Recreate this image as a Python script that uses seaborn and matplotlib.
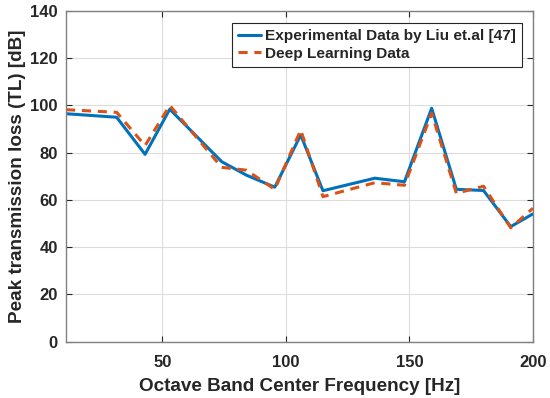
import pandas as pd
import matplotlib
matplotlib.use("Agg")
import matplotlib.pyplot as plt
import seaborn as sns

# values
freq = [11, 31.5, 43, 53, 74, 84, 95.5, 106, 115, 136, 148, 159, 169, 180, 191, 200]
experimental = [96.5, 95.0, 79.3, 98.4, 76.2, 70.5, 65.4, 87.5, 63.9, 69.2, 67.7, 98.8, 64.5, 64.0, 48.7, 54.1]
deep_learning = [98.2, 97.1, 83.0, 100.0, 73.8, 72.6, 64.5, 89.6, 61.4, 67.3, 66.2, 96.7, 62.8, 65.8, 48.2, 56.5]

label_exp = "Experimental Data by Liu et.al [47]"
label_dl = "Deep Learning Data"

data = pd.DataFrame({"freq": freq, "exp": experimental, "dl": deep_learning})

sns.set_theme(style="ticks")
plt.rcParams['font.family'] = ['Liberation Sans', 'DejaVu Sans']
plt.rcParams['font.weight'] = 'bold'

fig = plt.figure(figsize=(5.5, 3.98), dpi=100)
ax = fig.add_axes([0.12, 0.1415, 0.849, 0.831])

sns.lineplot(data=data, x="freq", y="exp", ax=ax, color="#0072BD", linewidth=2.2, label=label_exp)
sns.lineplot(data=data, x="freq", y="dl", ax=ax, color="#D95319", linewidth=2.2,
             linestyle=(0, (3, 2.2)), label=label_dl)

ax.set_xlim(11, 200)
ax.set_ylim(0, 140)
ax.set_xticks([50, 100, 150, 200])
ax.set_yticks(range(0, 141, 20))
ax.grid(True, color="#dcdcdc", linewidth=0.8)
ax.tick_params(direction="in", top=True, right=True, length=4, width=0.8,
               color="#262626", labelsize=12)
ax.tick_params(axis="x", pad=9.5)
ax.tick_params(axis="y", pad=6)
for lbl in ax.get_xticklabels() + ax.get_yticklabels():
    lbl.set_fontweight("bold")
    lbl.set_color("#262626")
for s in ax.spines.values():
    s.set_color("#808080")
    s.set_linewidth(1.0)

ax.set_xlabel("Octave Band Center Frequency [Hz]", fontsize=13.6, fontweight="bold", color="#262626", labelpad=5.5)
ax.set_ylabel("Peak transmission loss (TL) [dB]", fontsize=13.6, fontweight="bold", color="#262626", labelpad=3)

leg = ax.legend(loc="upper right", bbox_to_anchor=(0.976, 0.964), fontsize=11.1, frameon=True,
                fancybox=False, edgecolor="#262626", framealpha=1, borderpad=0.4,
                labelspacing=0.25, handlelength=1.5, handletextpad=0.25, borderaxespad=0)
leg.get_frame().set_linewidth(0.8)
for t in leg.get_texts():
    t.set_fontweight("bold")

fig.savefig("out.png", dpi=100)
